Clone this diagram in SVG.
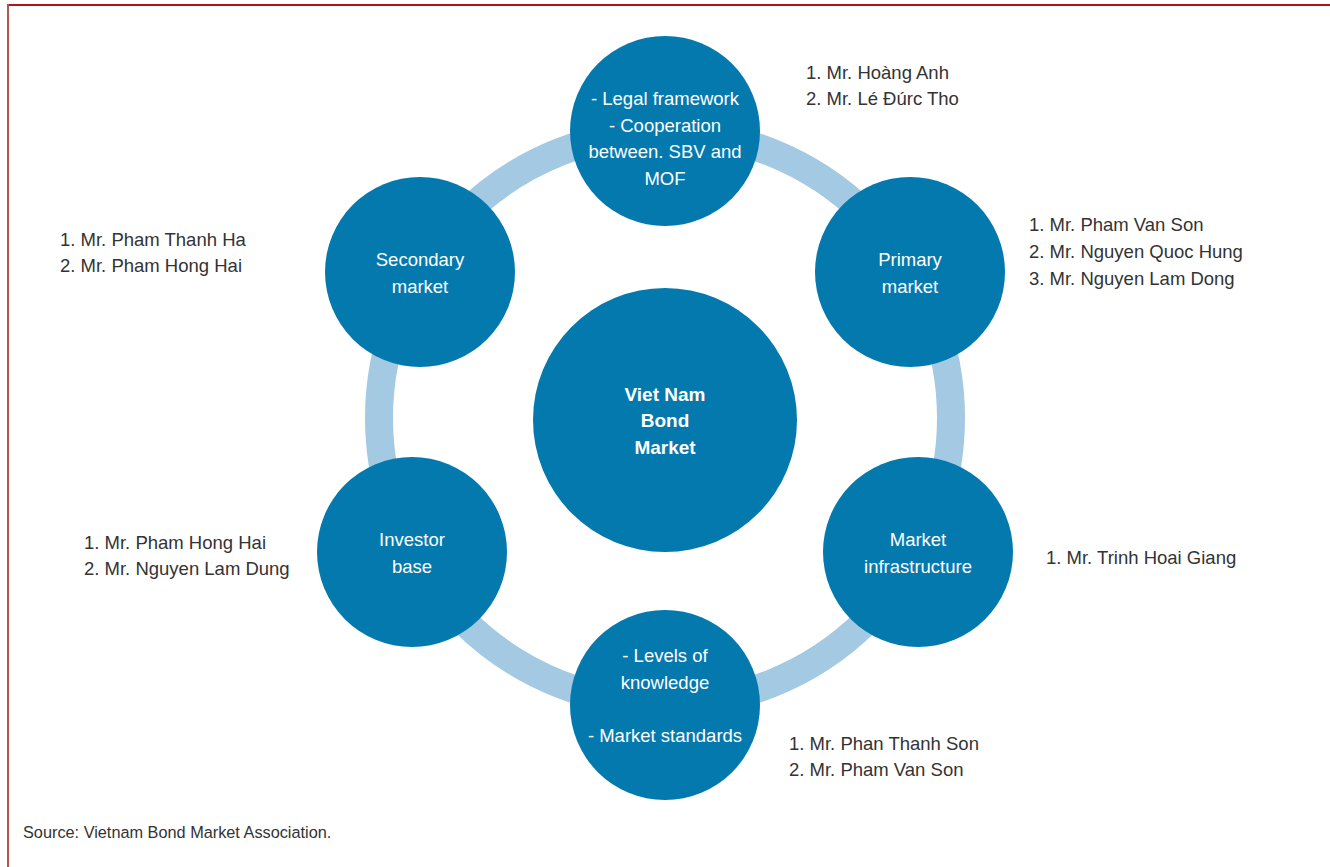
<svg xmlns="http://www.w3.org/2000/svg" width="1330" height="867" viewBox="0 0 1330 867">
<style>
.node{fill:#0479ae}
.nt{font-family:"Liberation Sans",Arial,sans-serif;font-size:18.5px;fill:#ffffff;text-anchor:middle}
.ct{font-family:"Liberation Sans",Arial,sans-serif;font-size:19px;font-weight:bold;fill:#ffffff;text-anchor:middle}
.lb{font-family:"Liberation Sans",Arial,sans-serif;font-size:18.5px;fill:#333333}
.src{font-family:"Liberation Sans",Arial,sans-serif;font-size:16.3px;fill:#333333}
</style>
<rect width="1330" height="867" fill="#ffffff"/>
<line x1="7" y1="5" x2="1330" y2="5" stroke="#b31414" stroke-width="2"/>
<line x1="8" y1="4" x2="8" y2="867" stroke="#b5544b" stroke-width="2"/>
<g id="connectors">
<circle cx="665" cy="418" r="286" fill="none" stroke="#a4c9e3" stroke-width="28"/>
</g>
<g id="center">
<circle class="node" cx="665" cy="420" r="132"/>
<text class="ct" x="665" y="401">Viet Nam</text>
<text class="ct" x="665" y="427">Bond</text>
<text class="ct" x="665" y="454">Market</text>
</g>
<g id="legal">
<circle class="node" cx="665" cy="131" r="95"/>
<text class="nt" x="665" y="105">- Legal framework</text>
<text class="nt" x="665" y="132">- Cooperation</text>
<text class="nt" x="665" y="158">between. SBV and</text>
<text class="nt" x="665" y="185">MOF</text>
</g>
<g id="primary">
<circle class="node" cx="910" cy="272" r="95"/>
<text class="nt" x="910" y="266">Primary</text>
<text class="nt" x="910" y="293">market</text>
</g>
<g id="infrastructure">
<circle class="node" cx="918" cy="552" r="95"/>
<text class="nt" x="918" y="546">Market</text>
<text class="nt" x="918" y="573">infrastructure</text>
</g>
<g id="knowledge">
<circle class="node" cx="665" cy="705" r="95"/>
<text class="nt" x="665" y="662">- Levels of</text>
<text class="nt" x="665" y="689">knowledge</text>
<text class="nt" x="665" y="742">- Market standards</text>
</g>
<g id="investor">
<circle class="node" cx="412" cy="552" r="95"/>
<text class="nt" x="412" y="546">Investor</text>
<text class="nt" x="412" y="573">base</text>
</g>
<g id="secondary">
<circle class="node" cx="420" cy="272" r="95"/>
<text class="nt" x="420" y="266">Secondary</text>
<text class="nt" x="420" y="293">market</text>
</g>
<g id="labels">
<text class="lb" x="806" y="79">1. Mr. Hoàng Anh</text>
<text class="lb" x="806" y="105">2. Mr. Lé Đúrc Tho</text>
<text class="lb" x="1029" y="231">1. Mr. Pham Van Son</text>
<text class="lb" x="1029" y="258">2. Mr. Nguyen Quoc Hung</text>
<text class="lb" x="1029" y="285">3. Mr. Nguyen Lam Dong</text>
<text class="lb" x="60" y="246">1. Mr. Pham Thanh Ha</text>
<text class="lb" x="60" y="272">2. Mr. Pham Hong Hai</text>
<text class="lb" x="84" y="549">1. Mr. Pham Hong Hai</text>
<text class="lb" x="84" y="575">2. Mr. Nguyen Lam Dung</text>
<text class="lb" x="1046" y="564">1. Mr. Trinh Hoai Giang</text>
<text class="lb" x="789" y="750">1. Mr. Phan Thanh Son</text>
<text class="lb" x="789" y="776">2. Mr. Pham Van Son</text>
<text class="src" x="23" y="838">Source: Vietnam Bond Market Association.</text>
</g>
</svg>
